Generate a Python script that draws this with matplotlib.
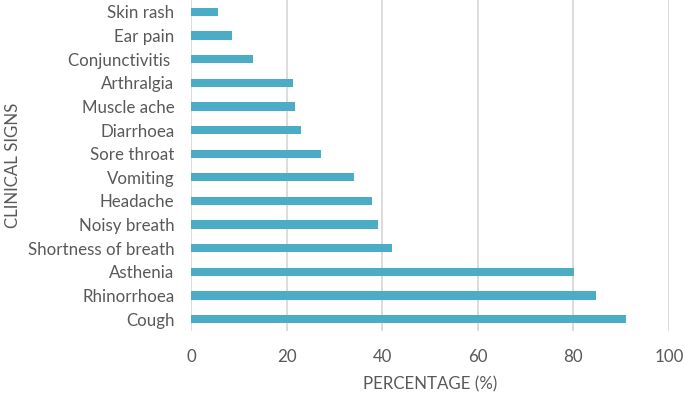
import matplotlib
matplotlib.use("Agg")
import matplotlib.pyplot as plt

# Clinical signs and percentage of cases
signs = ['Cough', 'Rhinorrhoea', 'Asthenia', 'Shortness of breath', 'Noisy breath',
         'Headache', 'Vomiting', 'Sore throat', 'Diarrhoea', 'Muscle ache',
         'Arthralgia', 'Conjunctivitis ', 'Ear pain', 'Skin rash']
percent = [91.0, 84.7, 80.1, 42.1, 39.1, 37.9, 34.0, 27.1, 23.0, 21.8, 21.4, 13.0, 8.6, 5.6]
xticks = [0, 20, 40, 60, 80, 100]

TEXT = '#595959'
plt.rcParams['font.family'] = ['Lato', 'DejaVu Sans']

fig = plt.figure(figsize=(6.85, 3.93), dpi=100)
ax = fig.add_axes([191/685, 1 - 331/393, (669-191)/685, 331/393])

ax.barh(range(len(signs)), percent, height=0.35, color='#4BACC6', zorder=3)

ax.set_xlim(0, 100)
ax.set_ylim(-0.5, len(signs) - 0.5)
ax.set_xticks(xticks)
ax.set_yticks(range(len(signs)))
ax.set_yticklabels(signs)
ax.grid(axis='x', color='#D9D9D9', linewidth=1.3, zorder=0)
for s in ax.spines.values():
    s.set_visible(False)
ax.tick_params(length=0, labelsize=12.2, colors=TEXT, pad=12)
ax.tick_params(axis='x', pad=13)

ax.set_xlabel('PERCENTAGE (%)', fontsize=12.2, color=TEXT, labelpad=8)
ax.set_ylabel('CLINICAL SIGNS', fontsize=12.2, color=TEXT, labelpad=5)

fig.savefig('out.png', dpi=100)
